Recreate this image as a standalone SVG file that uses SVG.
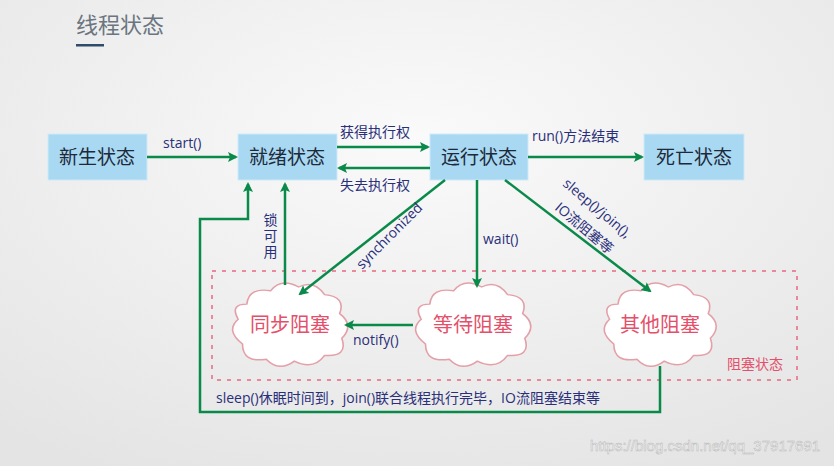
<svg xmlns="http://www.w3.org/2000/svg" width="834" height="466" viewBox="0 0 834 466">
<defs>
<radialGradient id="bg" cx="0.5" cy="0.3" r="0.8"><stop offset="0" stop-color="#fafafa"/><stop offset="1" stop-color="#e4e4e4"/></radialGradient>
<marker id="ah" markerWidth="10" markerHeight="10" refX="8" refY="5" orient="auto" markerUnits="userSpaceOnUse"><path d="M0,0 L10,5 L0,10 L2,5 Z" fill="#0a8a4a"/></marker>
<g id="cloud"><path d="M-40,-22 Q-38,-40 -18,-36 Q-8,-50 8,-40 Q22,-48 32,-32 Q52,-30 46,-12 Q60,0 48,14 Q54,34 32,32 Q22,48 4,38 Q-10,50 -22,36 Q-44,40 -44,20 Q-60,6 -48,-6 Q-56,-22 -40,-22 Z" fill="#fff" stroke="#e3a0a8" stroke-width="1.5"/></g>
</defs>
<style>
.box{fill:#a9d8f2;stroke:#cde9f7;stroke-width:1}
.bt{font-family:"Noto Sans CJK SC",sans-serif;font-size:19px;fill:#1c2a3a;text-anchor:middle}
.lb{font-family:"Open Sans","Noto Sans CJK SC",sans-serif;font-size:14px;fill:#2a2f7a}
.ct{font-family:"Noto Sans CJK SC",sans-serif;font-size:20px;fill:#e4506a;text-anchor:middle}
.ln{stroke:#0a8a4a;stroke-width:2.5;fill:none}
</style>
<rect width="834" height="466" fill="url(#bg)"/>
<text x="76" y="33" font-family="Noto Sans CJK SC,sans-serif" font-size="22" fill="#6b7580">线程状态</text>
<rect x="76" y="44" width="28" height="2.5" fill="#2f4d6a"/>
<rect x="212" y="271" width="585" height="109" fill="none" stroke="#e66a80" stroke-width="1.5" stroke-dasharray="4,6"/>
<text x="755" y="369" font-family="Noto Sans CJK SC,sans-serif" font-size="14" fill="#e4506a" text-anchor="middle">阻塞状态</text>
<g id="n1"><rect class="box" x="48" y="134" width="99" height="46"/><text class="bt" x="97" y="164">新生状态</text></g>
<g id="n2"><rect class="box" x="238" y="134" width="99" height="46"/><text class="bt" x="287" y="164">就绪状态</text></g>
<g id="n3"><rect class="box" x="430" y="134" width="98" height="46"/><text class="bt" x="479" y="164">运行状态</text></g>
<g id="n4"><rect class="box" x="644" y="134" width="100" height="46"/><text class="bt" x="694" y="164">死亡状态</text></g>
<g id="c1"><use href="#cloud" transform="translate(290,325) scale(1.08,0.95)"/><text class="ct" x="290" y="332">同步阻塞</text></g>
<g id="c2"><use href="#cloud" transform="translate(473,325) scale(1.08,0.95)"/><text class="ct" x="473" y="332">等待阻塞</text></g>
<g id="c3"><use href="#cloud" transform="translate(660,325) scale(1.05,0.95)"/><text class="ct" x="660" y="332">其他阻塞</text></g>
<g id="connectors">
<line class="ln" x1="147" y1="157" x2="236" y2="157" marker-end="url(#ah)"/>
<line class="ln" x1="337" y1="147" x2="428" y2="147" marker-end="url(#ah)"/>
<line class="ln" x1="430" y1="168" x2="339" y2="168" marker-end="url(#ah)"/>
<line class="ln" x1="528" y1="157" x2="642" y2="157" marker-end="url(#ah)"/>
<line class="ln" x1="445" y1="180" x2="300" y2="294" marker-end="url(#ah)"/>
<line class="ln" x1="477" y1="180" x2="477" y2="286" marker-end="url(#ah)"/>
<line class="ln" x1="505" y1="180" x2="650" y2="291" marker-end="url(#ah)"/>
<line class="ln" x1="413" y1="325" x2="346" y2="325" marker-end="url(#ah)"/>
<line class="ln" x1="285" y1="285" x2="285" y2="184" marker-end="url(#ah)"/>
<polyline class="ln" points="660,366 660,412 200,412 200,219 248,219 248,184" marker-end="url(#ah)"/>
<text x="163" y="148" class="lb">start()</text>
<text x="340" y="137" class="lb">获得执行权</text>
<text x="340" y="190" class="lb">失去执行权</text>
<text x="532" y="141" class="lb">run()方法结束</text>
<text class="lb" transform="translate(362,270) rotate(-45)">synchronized</text>
<text x="483" y="244" class="lb">wait()</text>
<text class="lb" transform="translate(562,185) rotate(40)">sleep()/join(),</text>
<text class="lb" transform="translate(554,209) rotate(40)">IO流阻塞等</text>
<text x="270" y="213" class="lb" writing-mode="tb" letter-spacing="2">锁可用</text>
<text x="353" y="345" class="lb">notify()</text>
<text x="216" y="403" class="lb">sleep()休眠时间到，join()联合线程执行完毕，IO流阻塞结束等</text>
</g>
<text x="705" y="451" font-family="Liberation Sans,sans-serif" font-size="15" fill="#f4f4f4" stroke="#b8b8b8" stroke-width="0.5" text-anchor="middle">https://blog.csdn.net/qq_37917691</text>
</svg>
